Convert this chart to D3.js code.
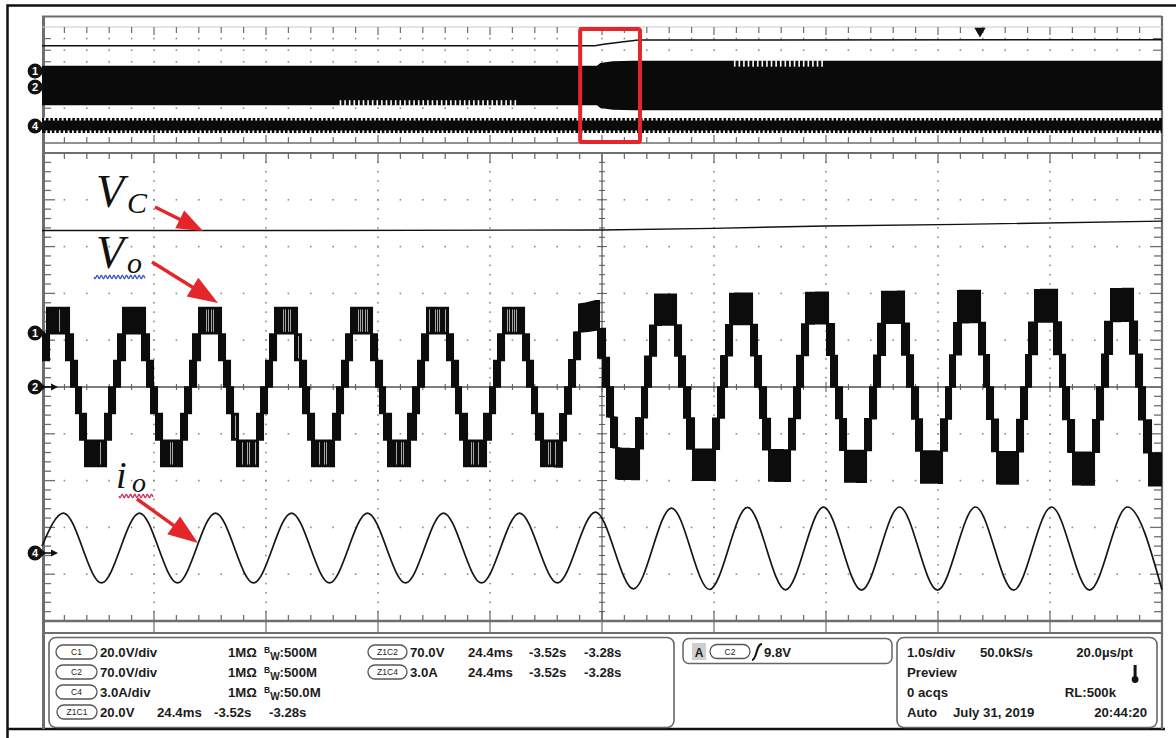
<!DOCTYPE html>
<html><head><meta charset="utf-8">
<script src="https://cdn.jsdelivr.net/npm/d3@7/dist/d3.min.js"></script>
<style>html,body{margin:0;padding:0;background:#fff;}svg{display:block;}</style>
</head><body>
<svg id="chart" width="1176" height="738"></svg>
<script>
// ================= DATA =================
// Zoom window (main graticule): 24.4 ms/div, 10 div, starting at -3.52 s
const zoomMsPerDiv = 24.4;
const zoomStartS = -3.52;
// Overview record (top strip): 1.0 s/div, trigger at t = 0
const recordStartS = -8.375, recordEndS = 1.625;
const redBoxS = [-3.57, -3.036];

// io  (C4, 3.0 A/div) extremes: ms from window start, amps
const ioTimes  = [0, 4.68, 12.96, 21.24, 29.52, 37.80, 46.08, 54.36, 62.63, 70.91, 79.19, 87.47, 95.75, 104.03, 112.30,
                  120.58, 128.86, 137.14, 145.42, 153.70, 161.98, 170.25, 178.53, 186.81, 195.09, 203.37, 211.65, 219.93, 228.21, 236.48, 244];
const ioValues = [0.45, 2.56, -1.92, 2.56, -1.92, 2.56, -1.92, 2.56, -1.92, 2.56, -1.92, 2.56, -1.92, 2.56, -1.92,
                  2.62, -2.30, 2.88, -2.34, 2.92, -2.36, 2.94, -2.38, 2.95, -2.38, 2.95, -2.38, 2.95, -2.38, 2.95, -2.36];

// Vo (C2, 70 V/div) reference extremes: ms from window start, volts
const voTimes  = [-4.90, 3.38, 11.66, 19.93, 28.21, 36.49, 44.77, 53.05, 61.33, 69.61, 77.89, 86.16, 94.44, 102.72, 111.00,
                  119.28, 127.56, 135.83, 144.11, 152.39, 160.67, 168.95, 177.23, 185.51, 193.79, 202.06, 210.34, 218.62, 226.90, 235.18, 243.46, 251.74];
const voValues = [-117, 117, -117, 117, -117, 117, -117, 117, -117, 117, -117, 117, -117, 117, -117,
                  123, -136, 136.5, -137, 138, -139, 140, -141, 141.5, -142, 143, -143.5, 144, -144.5, 145, -145, 146];
// Vo level step (cell voltage) over the window
const voStepTimes  = [0, 112, 119, 126, 244];
const voStepValues = [39.7, 39.7, 41.8, 46.0, 49.3];

// Vc (C1, 20 V/div) in the zoom window
const vcTimes  = [0, 60, 122, 146.2, 170.6, 200, 244];
const vcValues = [43.4, 43.4, 43.6, 44.3, 45.3, 46.0, 47.4];

// Overview envelopes (seconds, physical units)
const ovVcTimes  = [-8.375, -3.44, -3.36, -3.20, -3.05, 1.625];
const ovVcValues = [43.6, 43.6, 46, 50, 53.5, 54];
const ovVoTimes  = [-8.375, -3.42, -3.39, -3.28, -3.10, 1.625];
const ovVoPeak   = [119, 119, 136, 146, 150, 150];
const ovIoTimes  = [-8.375, 1.625];
const ovIoPeak   = [1.95, 1.95];
const ovVoGapsBottom = [[-5.71, -4.11]];
const ovVoGapsTop    = [[-2.19, -1.38]];

// Readout texts
const chanRows = [
  {tag: 'C1', scale: '20.0V/div', imp: '1MΩ', bw: '500M'},
  {tag: 'C2', scale: '70.0V/div', imp: '1MΩ', bw: '500M'},
  {tag: 'C4', scale: '3.0A/div',  imp: '1MΩ', bw: '50.0M'}
];
const zoomRows = [
  {tag: 'Z1C2', scale: '70.0V', t: '24.4ms', a: '-3.52s', b: '-3.28s'},
  {tag: 'Z1C4', scale: '3.0A',  t: '24.4ms', a: '-3.52s', b: '-3.28s'},
  {tag: 'Z1C1', scale: '20.0V', t: '24.4ms', a: '-3.52s', b: '-3.28s'}
];
const trigText = {src: 'C2', level: '9.8V'};
const horizText = ['1.0s/div', '50.0kS/s', '20.0µs/pt', 'Preview', '0 acqs', 'RL:500k', 'Auto', 'July 31, 2019', '20:44:20'];

// ================= DRAWING =================
const svg = d3.select('#chart');
const GRID = '#6e6e6e', DOT = '#8c8c8c', RED = '#e4252a';
const SANS = "'Liberation Sans', Arial, Helvetica, sans-serif";
const SERIF = "'Liberation Serif', 'Times New Roman', serif";

const L = 42, R = 1162, T = 153, B = 621;
const mainX = d3.scaleLinear().domain([0, zoomMsPerDiv * 10]).range([L, R]);
const divX = d3.scaleLinear().domain([0, 10]).range([L, R]);
const divY = d3.scaleLinear().domain([0, 10]).range([T, B]);
const pxDiv = (B - T) / 10;
const yC1 = d3.scaleLinear().domain([0, 20]).range([332, 332 - pxDiv]);
const yC2 = d3.scaleLinear().domain([0, 70]).range([387, 387 - pxDiv]);
const yC4 = d3.scaleLinear().domain([0, 3]).range([553, 553 - pxDiv]);

const OT = 27, OB = 143;
const ovX = d3.scaleLinear().domain([recordStartS, recordEndS]).range([L, R]);
const ovDivY = d3.scaleLinear().domain([0, 10]).range([OT, OB]);
const ovPx = (OB - OT) / 10;
const ovY1 = d3.scaleLinear().domain([0, 20]).range([71, 71 - ovPx]);
const ovY2 = d3.scaleLinear().domain([0, 70]).range([85.5, 85.5 - ovPx]);
const ovY4 = d3.scaleLinear().domain([0, 3]).range([125.5, 125.5 - ovPx]);

// ---- outer picture frame ----
svg.append('path').attr('d', `M7.5,738 V5.5 H1176`).attr('fill', 'none').attr('stroke', '#111').attr('stroke-width', 2.5);
svg.append('line').attr('x1', 7).attr('x2', 1165).attr('y1', 729).attr('y2', 729).attr('stroke', '#111').attr('stroke-width', 2.5);

// ---- scope frame ----
const frame = svg.append('g').attr('stroke', GRID).attr('fill', 'none');
frame.append('line').attr('x1', L).attr('x2', R).attr('y1', 16.5).attr('y2', 16.5).attr('stroke-width', 2);
frame.append('line').attr('x1', L + 1.5).attr('x2', L + 1.5).attr('y1', 16).attr('y2', 729).attr('stroke-width', 3);
frame.append('line').attr('x1', R).attr('x2', R).attr('y1', 16).attr('y2', 729).attr('stroke-width', 2.2);

// ---- overview graticule ----
const ov = svg.append('g');
ov.append('line').attr('x1', L).attr('x2', R).attr('y1', OT).attr('y2', OT).attr('stroke', '#c8c8c8').attr('stroke-width', 1);
ov.append('line').attr('x1', L).attr('x2', R).attr('y1', OB).attr('y2', OB).attr('stroke', GRID).attr('stroke-width', 1.6);
d3.range(1, 50).forEach(k => {
  const x = divX(k / 5), major = k % 5 === 0;
  ov.append('line').attr('x1', x).attr('x2', x).attr('y1', OT).attr('y2', OT + (major ? 8 : 6)).attr('stroke', GRID).attr('stroke-width', 1.2);
  ov.append('line').attr('x1', x).attr('x2', x).attr('y1', OB).attr('y2', OB - (major ? 8 : 6)).attr('stroke', GRID).attr('stroke-width', 1.2);
});
d3.range(1, 10).forEach(j => {
  const y = ovDivY(j);
  ov.append('line').attr('x1', L).attr('x2', L + 9).attr('y1', y).attr('y2', y).attr('stroke', GRID).attr('stroke-width', 1.2);
  ov.append('line').attr('x1', R - 9).attr('x2', R).attr('y1', y).attr('y2', y).attr('stroke', GRID).attr('stroke-width', 1.2);
  d3.range(1, 50).forEach(k => ov.append('rect').attr('x', divX(k / 5) - 0.8).attr('y', y - 0.8).attr('width', 1.6).attr('height', 1.6).attr('fill', DOT));
});

// ---- overview traces ----
ov.append('path').datum(ovVcTimes.map((t, i) => [t, ovVcValues[i]]))
  .attr('d', d3.line().x(d => ovX(d[0])).y(d => ovY1(d[1])))
  .attr('fill', 'none').attr('stroke', '#111').attr('stroke-width', 1.5);
ov.append('path').datum(ovVoTimes.map((t, i) => [t, ovVoPeak[i]]))
  .attr('d', d3.area().x(d => ovX(d[0])).y0(d => ovY2(-d[1])).y1(d => ovY2(d[1])))
  .attr('fill', '#0a0a0a');
const ovVoAt = d3.scaleLinear().domain(ovVoTimes).range(ovVoPeak);
ovVoGapsBottom.forEach(([a, b]) => {
  for (let x = ovX(a); x <= ovX(b); x += 4.6) {
    const v = ovVoAt(ovX.invert(x));
    ov.append('line').attr('x1', x).attr('x2', x).attr('y1', ovY2(-v) + 0.5).attr('y2', ovY2(-v) - 5).attr('stroke', '#fff').attr('stroke-width', 1.6);
  }
});
ovVoGapsTop.forEach(([a, b]) => {
  for (let x = ovX(a); x <= ovX(b); x += 4.6) {
    const v = ovVoAt(ovX.invert(x));
    ov.append('line').attr('x1', x).attr('x2', x).attr('y1', ovY2(v) - 0.5).attr('y2', ovY2(v) + 6).attr('stroke', '#fff').attr('stroke-width', 1.6);
  }
});
ov.append('path').datum(ovIoTimes.map((t, i) => [t, ovIoPeak[i]]))
  .attr('d', d3.area().x(d => ovX(d[0])).y0(d => ovY4(-d[1])).y1(d => ovY4(d[1])))
  .attr('fill', '#0a0a0a');
const ovIoAt = d3.scaleLinear().domain(ovIoTimes).range(ovIoPeak);
for (let x = L + 3; x < R - 1; x += 4.4) {
  const v = ovIoAt(ovX.invert(x));
  ov.append('line').attr('x1', x).attr('x2', x).attr('y1', ovY4(v) - 0.5).attr('y2', ovY4(v) + 2.6).attr('stroke', '#fff').attr('stroke-width', 1.8);
  ov.append('line').attr('x1', x + 1.5).attr('x2', x + 1.5).attr('y1', ovY4(-v) + 0.5).attr('y2', ovY4(-v) - 2.6).attr('stroke', '#fff').attr('stroke-width', 1.8);
}
// trigger marker
ov.append('path').attr('d', d3.symbol(d3.symbolTriangle, 55)()).attr('transform', `translate(${ovX(0)},31) rotate(180)`).attr('fill', '#111');
// red box around the zoomed region
ov.append('rect').attr('x', ovX(redBoxS[0])).attr('y', 29).attr('width', ovX(redBoxS[1]) - ovX(redBoxS[0])).attr('height', 113)
  .attr('rx', 2).attr('fill', 'none').attr('stroke', RED).attr('stroke-width', 4);

// ---- main graticule ----
const gr = svg.append('g');
d3.range(1, 10).filter(i => i !== 5).forEach(i => {
  d3.range(1, 50).forEach(k => {
    gr.append('rect').attr('x', divX(i) - 0.8).attr('y', divY(k / 5) - 0.8).attr('width', 1.6).attr('height', 1.6).attr('fill', DOT);
    gr.append('rect').attr('x', divX(k / 5) - 0.8).attr('y', divY(i) - 0.8).attr('width', 1.6).attr('height', 1.6).attr('fill', DOT);
  });
});
const cx = divX(5), cy = divY(5);
gr.append('line').attr('x1', cx).attr('x2', cx).attr('y1', T).attr('y2', B).attr('stroke', '#555').attr('stroke-width', 1.2);
gr.append('line').attr('x1', L).attr('x2', R).attr('y1', cy).attr('y2', cy).attr('stroke', '#555').attr('stroke-width', 1.3);
d3.range(1, 50).forEach(k => {
  const major = k % 5 === 0, h = major ? 5 : 3;
  const y = divY(k / 5), x = divX(k / 5);
  gr.append('line').attr('x1', cx - h).attr('x2', cx + h).attr('y1', y).attr('y2', y).attr('stroke', '#555').attr('stroke-width', 1);
  gr.append('line').attr('x1', x).attr('x2', x).attr('y1', cy - h).attr('y2', cy + h).attr('stroke', '#555').attr('stroke-width', 1);
  gr.append('line').attr('x1', x).attr('x2', x).attr('y1', T).attr('y2', T + (major ? 10 : 6)).attr('stroke', GRID).attr('stroke-width', 1.3);
  gr.append('line').attr('x1', x).attr('x2', x).attr('y1', B).attr('y2', B - (major ? 10 : 6)).attr('stroke', GRID).attr('stroke-width', 1.3);
  gr.append('line').attr('x1', L).attr('x2', L + (major ? 13 : 9)).attr('y1', y).attr('y2', y).attr('stroke', GRID).attr('stroke-width', 1.3);
  gr.append('line').attr('x1', R).attr('x2', R - (major ? 12 : 8)).attr('y1', y).attr('y2', y).attr('stroke', GRID).attr('stroke-width', 1.3);
});
gr.append('line').attr('x1', L).attr('x2', R).attr('y1', T).attr('y2', T).attr('stroke', GRID).attr('stroke-width', 2);
gr.append('line').attr('x1', L).attr('x2', R).attr('y1', B).attr('y2', B).attr('stroke', GRID).attr('stroke-width', 2.5);
gr.append('line').attr('x1', L).attr('x2', R).attr('y1', 633).attr('y2', 633).attr('stroke', GRID).attr('stroke-width', 2);
d3.range(1, 10).forEach(i => gr.append('line').attr('x1', divX(i)).attr('x2', divX(i)).attr('y1', B).attr('y2', 633).attr('stroke', GRID).attr('stroke-width', 1.2));

// ---- main traces ----
const tr = svg.append('g');
// Vc
tr.append('path').datum(vcTimes.map((t, i) => [t, vcValues[i]]))
  .attr('d', d3.line().x(d => mainX(d[0])).y(d => yC1(d[1])))
  .attr('fill', 'none').attr('stroke', '#111').attr('stroke-width', 1.4);

// Vo: 7-level PWM of the reference through the read extremes, shown as a
// peak-detect raster (min..max of the trace around every pixel column)
function extremeAt(t) {
  let i = d3.bisectRight(voTimes, t) - 1;
  i = Math.max(0, Math.min(voTimes.length - 2, i));
  const s = (t - voTimes[i]) / (voTimes[i + 1] - voTimes[i]);
  const w = (1 - Math.cos(Math.PI * s)) / 2;
  return voValues[i] + (voValues[i + 1] - voValues[i]) * w;
}
const stepAt = d3.scaleLinear().domain(voStepTimes).range(voStepValues).clamp(true);
const maxIndex = 2.93;
function voAt(t, carrier) {
  const st = stepAt(t);
  const r = Math.max(-maxIndex, Math.min(maxIndex, extremeAt(t) / st));
  const ph = (t / carrier) % 1;
  const c = 1 - Math.abs(2 * ph - 1);
  const f = Math.floor(r);
  return (f + ((r - f) > c ? 1 : 0)) * st;
}
function columns(carrierPx) {
  const carrier = mainX.invert(L + carrierPx) - mainX.invert(L);
  const SUB = 12;
  return d3.range(0, R - L).map(px => {
    let mn = Infinity, mx = -Infinity;
    for (let s = 0; s < SUB; s++) {
      const v = voAt(mainX.invert(L + px + (s + 0.5) / SUB), carrier);
      if (v < mn) mn = v;
      if (v > mx) mx = v;
    }
    return {t: mainX.invert(L + px), lo: mn, hi: mx};
  });
}
const SPREAD = 2;
const rawCols = columns(1.15);
const texCols = columns(1.75);
const voCols = rawCols.map((d, i) => {
  const win = rawCols.slice(Math.max(0, i - SPREAD), i + SPREAD + 1);
  return {t: d.t, lo: d3.min(win, w => w.lo), hi: d3.max(win, w => w.hi)};
});
tr.append('path')
  .attr('d', voCols.map(d => {
    const x = mainX(d.t), y1 = yC2(d.hi) - 0.7, y2 = yC2(d.lo) + 0.7;
    return `M${x},${y1}h1.05V${y2}h-1.05Z`;
  }).join(''))
  .attr('fill', '#0c0c0c');
// white slits where the slower texture sampling shows no switching
const slits = voCols.map((d, i) => ({d, tex: texCols[i], st: stepAt(d.t)}))
  .filter(o => o.tex.lo === o.tex.hi && Math.abs((o.d.hi - o.d.lo) - o.st) < 0.5);
tr.append('path')
  .attr('d', slits.map(o => {
    const x = mainX(o.d.t), y1 = yC2(o.d.hi) + 2.2, y2 = yC2(o.d.lo) - 2.2;
    return `M${x + 0.15},${y1}h0.75V${y2}h-0.75Z`;
  }).join(''))
  .attr('fill', '#fff').attr('opacity', 0.85);

// io
tr.append('path').datum(ioTimes.map((t, i) => [t, ioValues[i]]))
  .attr('d', d3.line().x(d => mainX(d[0])).y(d => yC4(d[1])).curve(d3.curveMonotoneX))
  .attr('fill', 'none').attr('stroke', '#151515').attr('stroke-width', 1.7);

// ---- channel markers ----
function marker(x, y, label, arrow) {
  const g = svg.append('g');
  g.append('path').attr('d', `M${x + 4},${y - 5.6} L${x + 11},${y} L${x + 4},${y + 5.6} Z`).attr('fill', '#111');
  g.append('circle').attr('cx', x).attr('cy', y).attr('r', 7.4).attr('fill', '#111');
  if (arrow) {
    g.append('line').attr('x1', x + 8).attr('x2', x + 18).attr('y1', y).attr('y2', y).attr('stroke', '#111').attr('stroke-width', 1.6);
    g.append('path').attr('d', `M${x + 23},${y} L${x + 16},${y - 3.5} L${x + 16},${y + 3.5} Z`).attr('fill', '#111');
  }
  g.append('text').attr('x', x).attr('y', y + 4).attr('text-anchor', 'middle').attr('fill', '#fff')
    .attr('font-family', SANS).attr('font-weight', 'bold').attr('font-size', 11).text(label);
}
marker(35, 71, '1', false);
marker(35, 87, '2', false);
marker(35, 126, '4', false);
marker(35, 333, '1', false);
marker(35, yC2(0), '2', true);
marker(35, yC4(0), '4', true);

// ---- annotations ----
const ann = svg.append('g').attr('font-family', SERIF).attr('font-style', 'italic').attr('fill', '#111');
function label(x, y, main, size, sx, sy, sub, subSize) {
  ann.append('text').attr('x', x).attr('y', y).attr('font-size', size).text(main);
  ann.append('text').attr('x', sx).attr('y', sy).attr('font-size', subSize).text(sub);
}
label(96, 207, 'V', 46, 127, 213, 'C', 30);
label(96, 268, 'V', 46, 127, 273, 'o', 30);
label(116, 488, 'i', 38, 132, 492, 'o', 28);
function wavy(x0, x1, y, color) {
  const pts = d3.range(x0, x1 + 0.01, 0.5).map(x => [x, y + 1.6 * Math.sin((x - x0) / 4.2 * 2 * Math.PI)]);
  svg.append('path').attr('d', d3.line()(pts)).attr('fill', 'none').attr('stroke', color).attr('stroke-width', 1.3);
}
wavy(94, 145, 277, '#3d56c8');
wavy(119, 153, 496, '#d62a5a');
function arrow(x0, y0, x1, y1, hl, hw) {
  const dx = x1 - x0, dy = y1 - y0, len = Math.hypot(dx, dy), ux = dx / len, uy = dy / len;
  const bx = x1 - ux * hl, by = y1 - uy * hl, nx = -uy * hw / 2, ny = ux * hw / 2;
  svg.append('line').attr('x1', x0).attr('y1', y0).attr('x2', bx + ux * 2).attr('y2', by + uy * 2).attr('stroke', RED).attr('stroke-width', 3.4);
  svg.append('path').attr('d', `M${x1},${y1} L${bx + nx},${by + ny} L${bx - nx},${by - ny} Z`).attr('fill', RED);
}
arrow(155, 207, 203, 231, 26, 20);
arrow(152, 262, 218, 303, 30, 22);
arrow(137, 499, 198, 543, 30, 22);

// ---- readout panel ----
const pn = svg.append('g').attr('font-family', SANS).attr('font-weight', 'bold').attr('font-size', 13.2).attr('fill', '#1c1c1c');
pn.append('rect').attr('x', 49).attr('y', 637.5).attr('width', 625).attr('height', 90).attr('rx', 7).attr('fill', 'none').attr('stroke', '#666').attr('stroke-width', 1.6);
pn.append('rect').attr('x', 683).attr('y', 638.5).attr('width', 209).attr('height', 25).attr('rx', 6).attr('fill', 'none').attr('stroke', '#666').attr('stroke-width', 1.5);
pn.append('rect').attr('x', 897).attr('y', 637.5).attr('width', 260).attr('height', 90).attr('rx', 7).attr('fill', 'none').attr('stroke', '#666').attr('stroke-width', 1.6);
function oval(x0, x1, cyy, tag) {
  pn.append('rect').attr('x', x0).attr('y', cyy - 7).attr('width', x1 - x0).attr('height', 14).attr('rx', 7)
    .attr('fill', '#fff').attr('stroke', '#555').attr('stroke-width', 1.3);
  pn.append('text').attr('x', (x0 + x1) / 2).attr('y', cyy + 3.2).attr('text-anchor', 'middle').attr('font-size', 8.5).attr('font-weight', 'normal').text(tag);
}
function txt(x, y, s, anchor) {
  return pn.append('text').attr('x', x).attr('y', y).attr('text-anchor', anchor || 'start').text(s);
}
const rowY = [652, 672, 692, 712];
chanRows.forEach((r, i) => {
  const y = rowY[i];
  oval(56, 97, y, r.tag);
  txt(100, y + 4.6, r.scale);
  txt(228, y + 4.6, r.imp);
  const t = pn.append('text').attr('x', 264).attr('y', y + 4.6);
  t.append('tspan').attr('font-size', 8.5).attr('dy', -4).text('B');
  t.append('tspan').attr('font-size', 10).attr('dy', 7).text('W');
  t.append('tspan').attr('dy', -3).text(':' + r.bw);
});
zoomRows.slice(0, 2).forEach((r, i) => {
  const y = rowY[i];
  oval(368, 407, y, r.tag);
  txt(410, y + 4.6, r.scale);
  txt(468, y + 4.6, r.t);
  txt(529, y + 4.6, r.a);
  txt(584, y + 4.6, r.b);
});
{
  const r = zoomRows[2], y = rowY[3];
  oval(57, 97, y, r.tag);
  txt(100, y + 4.6, r.scale);
  txt(157, y + 4.6, r.t);
  txt(214, y + 4.6, r.a);
  txt(269, y + 4.6, r.b);
}
// trigger
pn.append('rect').attr('x', 692).attr('y', 643).attr('width', 14).attr('height', 17).attr('fill', '#cfcfcf');
txt(699, 656.5, 'A', 'middle').attr('font-size', 12);
oval(710, 750, 651.5, trigText.src);
pn.append('path').attr('d', 'M752,660 C757,660 756,644 762,644').attr('fill', 'none').attr('stroke', '#111').attr('stroke-width', 2);
txt(764, 656.5, trigText.level);
// horizontal / acquisition
txt(907, 656.6, horizText[0]);
txt(980, 656.6, horizText[1]);
txt(1133, 656.6, horizText[2], 'end');
txt(907, 676.6, horizText[3]);
txt(907, 696.6, horizText[4]);
txt(1116, 696.6, horizText[5], 'end');
txt(907, 716.6, horizText[6]);
txt(953, 716.6, horizText[7]);
txt(1147, 716.6, horizText[8], 'end');
pn.append('rect').attr('x', 1133.6).attr('y', 665).attr('width', 3).attr('height', 13).attr('fill', '#111');
pn.append('circle').attr('cx', 1135.1).attr('cy', 679.5).attr('r', 3.4).attr('fill', '#111');
</script>
</body></html>
